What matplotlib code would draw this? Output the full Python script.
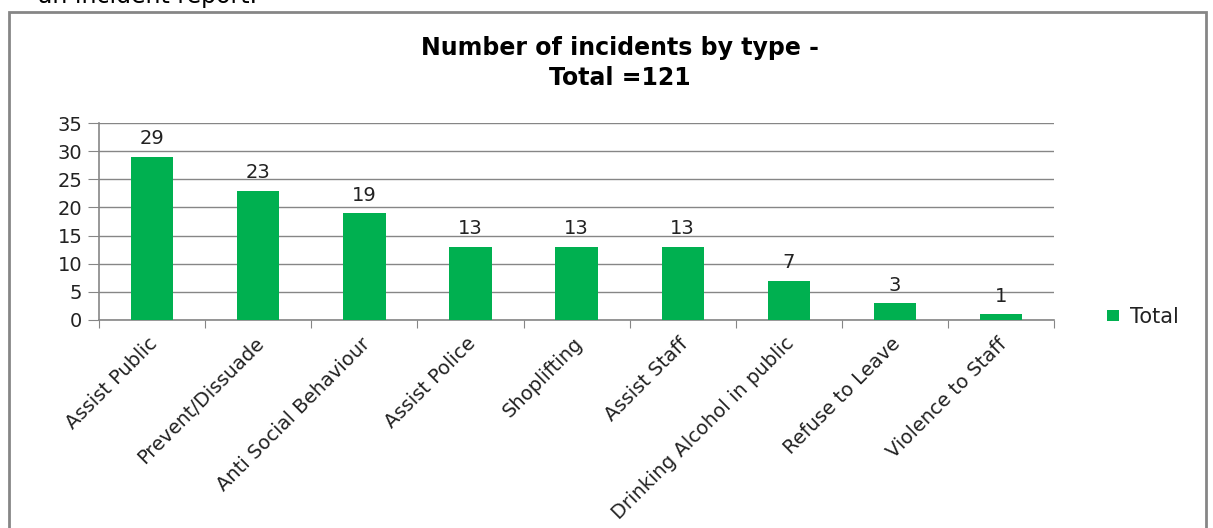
import matplotlib.pyplot as plt
from matplotlib.patches import Rectangle

categories = ["Assist Public", "Prevent/Dissuade", "Anti Social Behaviour",
              "Assist Police", "Shoplifting", "Assist Staff",
              "Drinking Alcohol in public", "Refuse to Leave", "Violence to Staff"]
totals = [29, 23, 19, 13, 13, 13, 7, 3, 1]
yticks = [0, 5, 10, 15, 20, 25, 30, 35]

green = "#00B050"
grey = "#868686"
txt = "#222222"
plt.rcParams['font.family'] = ['DejaVu Sans']

fig = plt.figure(figsize=(12.13, 5.28), dpi=100)
ax = fig.add_axes([0.0816, 0.394, 0.7875, 0.373])

x = range(len(categories))
bars = ax.bar(x, totals, width=0.4, color=green, zorder=3, label="Total")
for xi, v in zip(x, totals):
    ax.annotate(str(v), (xi, v), xytext=(0, 6), textcoords="offset points",
                ha="center", va="bottom", fontsize=14, color=txt)

ax.set_xlim(-0.5, len(categories) - 0.5)
ax.set_ylim(0, 35)
ax.set_yticks(yticks)
ax.tick_params(axis="y", labelsize=14, length=8, color=grey, pad=4, labelcolor=txt)
ax.yaxis.grid(True, color=grey, linewidth=1, zorder=0)
for s in ["top", "right"]:
    ax.spines[s].set_visible(False)
for s in ["left", "bottom"]:
    ax.spines[s].set_color(grey)
    ax.spines[s].set_linewidth(1.2)

# category tick marks between bars
ax.set_xticks([i - 0.5 for i in range(len(categories) + 1)])
ax.set_xticklabels([])
ax.tick_params(axis="x", length=6, color=grey)
for xi, name in zip(x, categories):
    ax.annotate(name, (xi, 0), xytext=(2, -15), textcoords="offset points",
                rotation=45, rotation_mode="anchor", ha="right", va="center",
                fontsize=14, color=txt)

fig.text(0.511, 0.881, "Number of incidents by type -\nTotal =121", ha="center",
         va="center", fontsize=17, fontweight="bold", linespacing=1.3)

fig.legend(handles=[bars], loc="center left", bbox_to_anchor=(0.897, 0.40),
           frameon=False, fontsize=15, handlelength=0.6, handleheight=0.45,
           handletextpad=0.5, labelcolor=txt)

# chart frame
fig.patches.append(Rectangle((9 / 1213, -0.05), 1197 / 1213, 1.05 - 12 / 528,
                             transform=fig.transFigure, fill=False,
                             edgecolor=grey, linewidth=2))
fig.text(38 / 1213, 1.008, "an incident report.", ha="left", va="center",
         fontsize=17, color="black")

fig.savefig("out.png", dpi=100)
